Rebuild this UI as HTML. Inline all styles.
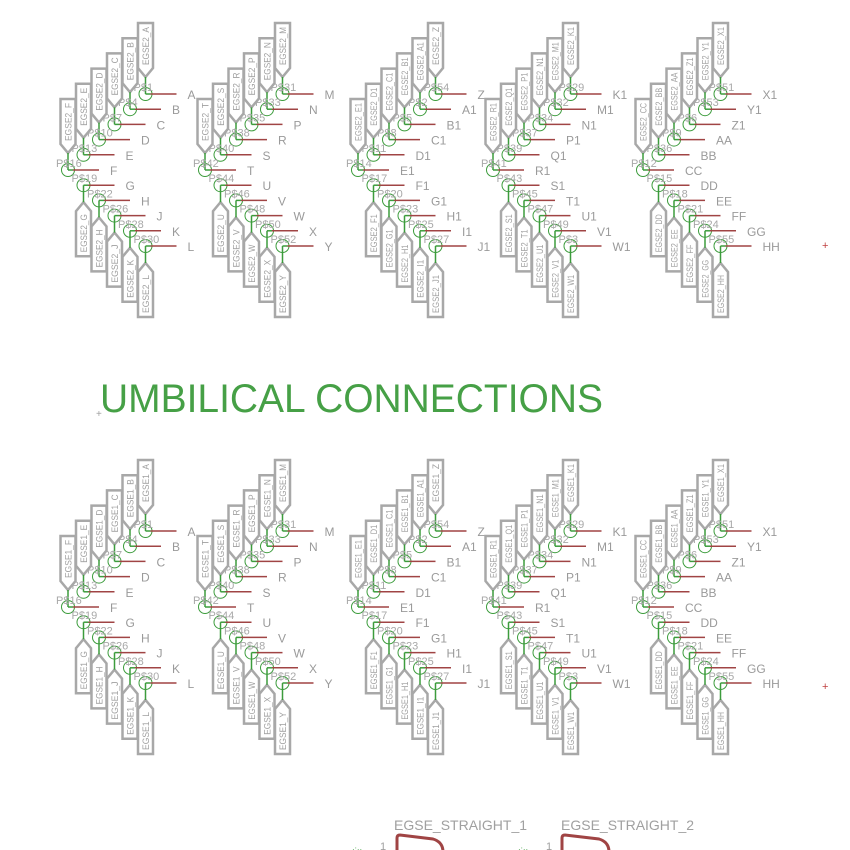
<!DOCTYPE html>
<html><head><meta charset="utf-8"><style>
html,body{margin:0;padding:0;background:#fff;width:850px;height:850px;overflow:hidden}
svg{display:block}
text{font-family:"Liberation Sans",sans-serif}
</style></head><body>
<svg id="s" width="850" height="850" viewBox="0 0 850 850">
<text x="100" y="412" font-size="40" fill="#46a046" textLength="503" lengthAdjust="spacingAndGlyphs">UMBILICAL CONNECTIONS</text>
<text x="96" y="417" font-size="10" fill="#a0a0a0">+</text>
<text x="822" y="249" font-size="11" fill="#c04040">+</text>
<text x="822" y="690" font-size="11" fill="#c04040">+</text>
<text x="394" y="830" font-size="14" fill="#a0a0a0">EGSE_STRAIGHT_1</text>
<text x="561" y="830" font-size="14" fill="#a0a0a0">EGSE_STRAIGHT_2</text>
<path d="M397,852 L397,838 Q397,835 400,835 L433,839 Q443,842 443,852" fill="none" stroke="#a04444" stroke-width="3"/>
<path d="M562,852 L562,838 Q562,835 565,835 L599,839 Q609,842 609,852" fill="none" stroke="#a04444" stroke-width="3"/>
<text x="380" y="850" font-size="11" fill="#a0a0a0">1</text>
<text x="546" y="850" font-size="11" fill="#a0a0a0">1</text>
<text x="352" y="852" font-size="8" fill="#46a046">·:··</text>
<text x="518" y="852" font-size="8" fill="#46a046">·:··</text>
</svg>
<script>
const blockX = [68, 205, 358, 493, 643];
const blockLabels = [
 ["A","B","C","D","E","F","G","H","J","K","L"],
 ["M","N","P","R","S","T","U","V","W","X","Y"],
 ["Z","A1","B1","C1","D1","E1","F1","G1","H1","I1","J1"],
 ["K1","M1","N1","P1","Q1","R1","S1","T1","U1","V1","W1"],
 ["X1","Y1","Z1","AA","BB","CC","DD","EE","FF","GG","HH"]
];
const padNums = [
 [1,4,7,10,13,16,19,22,26,28,30],
 [31,33,35,38,40,42,44,46,48,50,52],
 [54,2,5,8,11,14,17,20,23,25,27],
 [29,32,34,37,39,41,43,45,47,49,3],
 [51,53,6,9,36,12,15,18,21,24,55]
];
const halves = [{dy:0,pre:"EGSE2_"},{dy:437,pre:"EGSE1_"}];
const S = document.getElementById('s');
const NS = "http://www.w3.org/2000/svg";
function mk(tag, attrs){const e=document.createElementNS(NS,tag);for(const k in attrs)e.setAttribute(k,attrs[k]);S.appendChild(e);return e;}
const GRAY="#a8a8a8", RED="#a04444", GREEN="#3c9c3c";
halves.forEach((h,hi)=>{
 blockX.forEach((x0,bi)=>{
  blockLabels[bi].forEach((lab,i)=>{
   const cy = 94 + 15.2*i + h.dy;
   const cx = i<=5 ? x0 + 15.5*(5-i) : x0 + 15.5*(i-5);
   let box;
   if(i<=5){
    box = mk('path',{d:`M${cx-7.5},${cy-71} L${cx+7.5},${cy-71} L${cx+7.5},${cy-26} L${cx},${cy-17} L${cx-7.5},${cy-26} Z`,fill:"#fff",stroke:GRAY,"stroke-width":2.5});
    mk('line',{x1:cx,y1:cy-17,x2:cx,y2:cy,stroke:GREEN,"stroke-width":1.5});
   } else {
    box = mk('path',{d:`M${cx-7.5},${cy+71} L${cx+7.5},${cy+71} L${cx+7.5},${cy+26} L${cx},${cy+17} L${cx-7.5},${cy+26} Z`,fill:"#fff",stroke:GRAY,"stroke-width":2.5});
    mk('line',{x1:cx,y1:cy,x2:cx,y2:cy+17,stroke:GREEN,"stroke-width":1.5});
   }
   
   
   const ty = i<=5 ? cy-48 : cy+48;
   const t = mk('text',{x:0,y:0,"font-size":9,fill:"#a0a0a0","text-anchor":"middle",textLength:38,lengthAdjust:"spacingAndGlyphs",transform:`translate(${cx+3.3},${ty}) rotate(-90)`});
   t.textContent = h.pre + lab;
   
   
   const c = mk('circle',{cx:cx,cy:cy,r:6.5,fill:"none",stroke:GREEN,"stroke-width":1});
   
   
   mk('line',{x1:cx,y1:cy,x2:cx+5,y2:cy,stroke:GREEN,"stroke-width":1.5});
   const w = mk('line',{x1:cx+5,y1:cy,x2:cx+31,y2:cy,stroke:RED,"stroke-width":1.5});
   
   
   const pl = mk('text',{x:cx-12,y:cy-3,"font-size":11,fill:"#a8a8a8"});
   pl.textContent = "P$"+padNums[bi][i];
   
   
   const nl = mk('text',{x:cx+42,y:cy+5,"font-size":12,fill:"#9a9a9a"});
   nl.textContent = lab;
   
   
  });
 });
});
</script>
</body></html>
